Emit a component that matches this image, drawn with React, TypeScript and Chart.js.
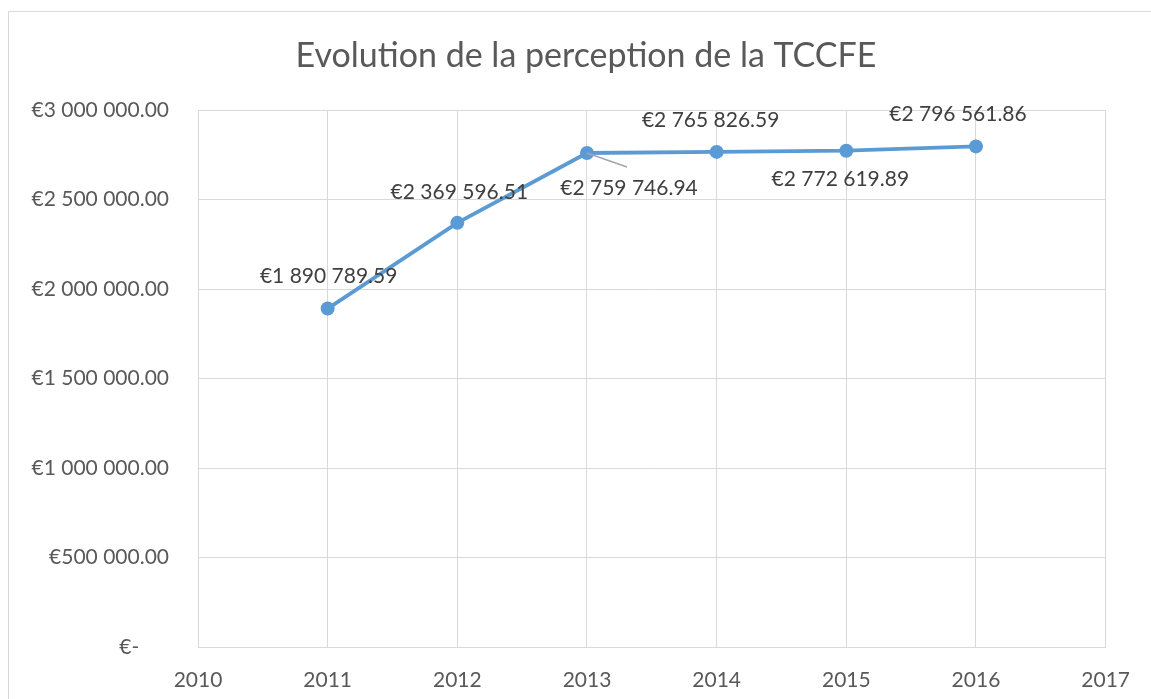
import React, { useEffect, useRef } from "react";
import { Chart, registerables } from "chart.js";

Chart.register(...registerables);

const chartTitle = "Evolution de la perception de la TCCFE";
const years = [2011, 2012, 2013, 2014, 2015, 2016];
const perception = [1890789.59, 2369596.51, 2759746.94, 2765826.59, 2772619.89, 2796561.86];
const xTickValues = [2010, 2011, 2012, 2013, 2014, 2015, 2016, 2017];
const yTickValues = [0, 500000, 1000000, 1500000, 2000000, 2500000, 3000000];
const yTickLabels = ["€-", "€500 000.00", "€1 000 000.00", "€1 500 000.00", "€2 000 000.00", "€2 500 000.00", "€3 000 000.00"];
// label placement (pixel offsets from each marker), leader flag
const labelOffsets = [
  [1, -32],
  [2, -31],
  [42, 35],
  [-6, -32],
  [-6, 29],
  [-18, -32],
];
const leaderLines = [false, false, true, false, false, false];

const FONT = "Lato, 'Open Sans', sans-serif";

function formatEuro(v: number): string {
  const [i, d] = v.toFixed(2).split(".");
  return "€" + i.replace(/\B(?=(\d{3})+(?!\d))/g, " ") + "." + d;
}

const frameAndLabels = {
  id: "frameAndLabels",
  beforeDraw(chart: any) {
    const ctx = chart.ctx;
    ctx.save();
    ctx.fillStyle = "#ffffff";
    ctx.fillRect(0, 0, chart.width, chart.height);
    ctx.strokeStyle = "#d9d9d9";
    ctx.lineWidth = 1;
    ctx.strokeRect(8.5, 11.5, chart.width + 20, chart.height + 20);
    ctx.fillStyle = "#595959";
    ctx.font = `34px ${FONT}`;
    ctx.textAlign = "center";
    ctx.textBaseline = "alphabetic";
    ctx.fillText(chartTitle, 586, 67);
    ctx.restore();
  },
  afterDatasetsDraw(chart: any) {
    const ctx = chart.ctx;
    const meta = chart.getDatasetMeta(0);
    ctx.save();
    meta.data.forEach((pt: any, i: number) => {
      const [dx, dy] = labelOffsets[i];
      if (leaderLines[i]) {
        ctx.strokeStyle = "#a6a6a6";
        ctx.lineWidth = 1.5;
        ctx.beginPath();
        ctx.moveTo(pt.x, pt.y);
        ctx.lineTo(pt.x + dx - 2, pt.y + dy - 21);
        ctx.stroke();
      }
      ctx.fillStyle = "#404040";
      ctx.font = `21px ${FONT}`;
      ctx.textAlign = "center";
      ctx.textBaseline = "middle";
      ctx.fillText(formatEuro(perception[i]), pt.x + dx, pt.y + dy);
    });
    ctx.restore();
  },
};

export default function App() {
  const ref = useRef<HTMLCanvasElement | null>(null);

  useEffect(() => {
    if (!ref.current) return;
    const chart = new Chart(ref.current, {
      type: "scatter",
      data: {
        datasets: [
          {
            label: "TCCFE",
            data: years.map((y, i) => ({ x: y, y: perception[i] })),
            showLine: true,
            borderColor: "#5B9BD5",
            backgroundColor: "#5B9BD5",
            borderWidth: 3.8,
            pointRadius: 7,
            pointHoverRadius: 7,
            pointBorderWidth: 0,
          },
        ],
      },
      options: {
        responsive: false,
        animation: false,
        layout: { padding: { top: 110, right: 42, left: 0, bottom: 0 } },
        plugins: {
          legend: { display: false },
          title: { display: false },
          tooltip: { enabled: false },
        },
        scales: {
          x: {
            type: "linear",
            min: 2010,
            max: 2017,
            afterBuildTicks: (scale: any) => {
              scale.ticks = xTickValues.map((v) => ({ value: v }));
            },
            afterFit: (scale: any) => {
              scale.height = 52;
            },
            grid: { color: "#d9d9d9", lineWidth: 1, drawTicks: false },
            border: { color: "#d9d9d9", width: 1 },
            ticks: {
              padding: 21,
              color: "#595959",
              font: { family: FONT, size: 21 },
              callback: (v: any) => String(v),
            },
          },
          y: {
            type: "linear",
            min: 0,
            max: 3000000,
            afterBuildTicks: (scale: any) => {
              scale.ticks = yTickValues.map((v) => ({ value: v }));
            },
            afterFit: (scale: any) => {
              scale.width = 198;
            },
            grid: { color: "#d9d9d9", lineWidth: 1, drawTicks: false },
            border: { color: "#d9d9d9", width: 1 },
            ticks: {
              padding: 29,
              color: "#595959",
              font: { family: FONT, size: 21 },
              callback: (v: any) => {
                const label = yTickLabels[yTickValues.indexOf(Number(v))] ?? "";
                return label === "€-" ? label + "\u2007\u2007 " : label;
              },
            },
          },
        },
      },
      plugins: [frameAndLabels],
    });
    return () => chart.destroy();
  }, []);

  return (
    <div style={{ position: "fixed", left: 0, top: 0, width: 1151, height: 699, overflow: "hidden", background: "#fff" }}>
      <canvas ref={ref} width={1151} height={699} style={{ display: "block" }} />
    </div>
  );
}
